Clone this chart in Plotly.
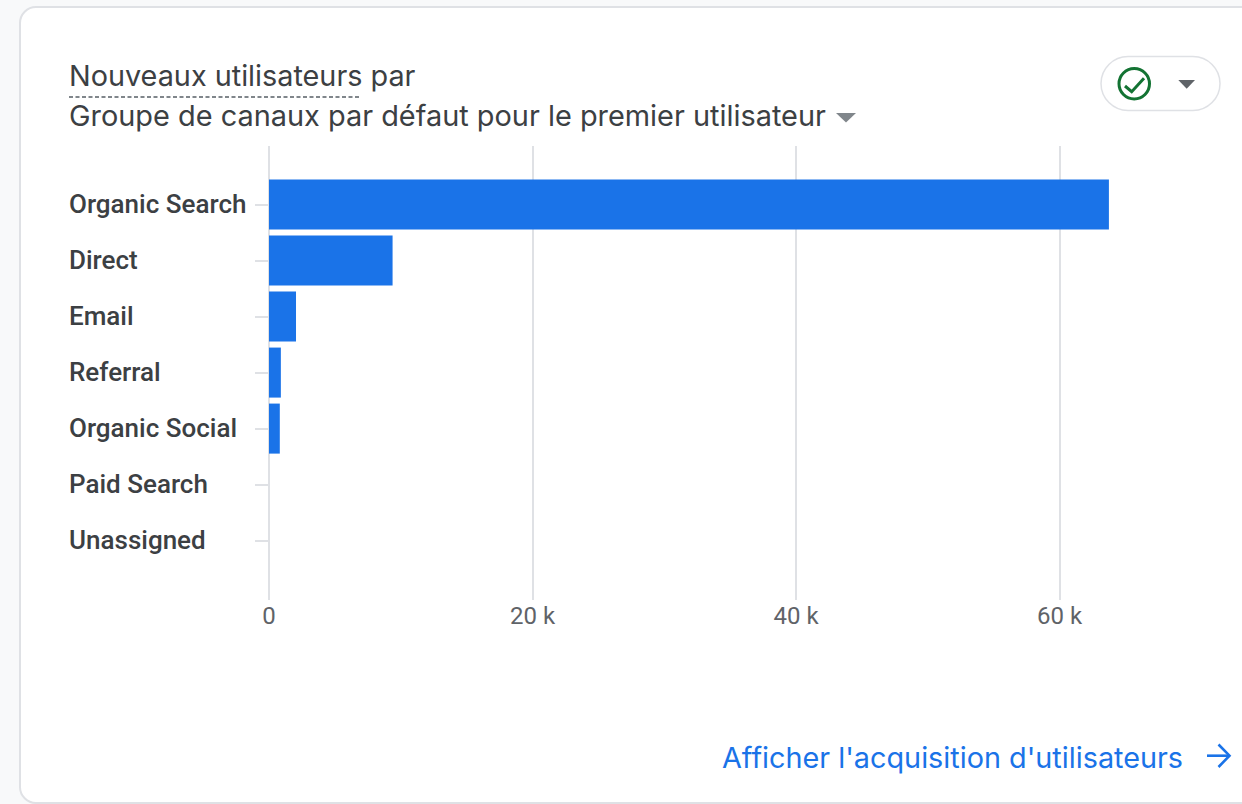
import plotly.graph_objects as go

categories = ["Organic Search", "Direct", "Email", "Referral", "Organic Social", "Paid Search", "Unassigned"]
new_users = [63750, 9380, 2050, 900, 820, 0, 0]
x_ticks = [0, 20000, 40000, 60000]
x_tick_labels = ["0", "20 k", "40 k", "60 k"]
title_line_1 = "Nouveaux utilisateurs par"
title_line_2 = "Groupe de canaux par défaut pour le premier utilisateur"
link_text = "Afficher l'acquisition d'utilisateurs"

W, H = 1242, 804
L, T, B = 269, 146, 600

def px(x):
    return (x - L) / (W - L)

def py(y):
    return (B - y) / (B - T)

def path(points, close=False):
    s = "M " + " L ".join(f"{px(x):.5f},{py(y):.5f}" for x, y in points)
    return s + (" Z" if close else "")

def rounded(x0, y0, x1, y1, r):
    # Rounded rectangle through cubic corners, in paper coordinates
    k = r * 0.45
    p = lambda x, y: f"{px(x):.5f},{py(y):.5f}"
    return (
        f"M {p(x0 + r, y0)} L {p(x1 - r, y0)} C {p(x1 - k, y0)} {p(x1, y0 + k)} {p(x1, y0 + r)} "
        f"L {p(x1, y1 - r)} C {p(x1, y1 - k)} {p(x1 - k, y1)} {p(x1 - r, y1)} "
        f"L {p(x0 + r, y1)} C {p(x0 + k, y1)} {p(x0, y1 - k)} {p(x0, y1 - r)} "
        f"L {p(x0, y0 + r)} C {p(x0, y0 + k)} {p(x0 + k, y0)} {p(x0 + r, y0)} Z"
    )

GREY = "#dfe1e5"
BLUE = "#1a73e8"
DARK = "#3c4043"
MID = "#5f6368"

shapes = [
    dict(type="path", xref="paper", yref="paper", layer="below", path=rounded(20, 7, 1290, 803, 16),
         fillcolor="#ffffff", line=dict(color=GREY, width=2)),
    dict(type="path", xref="paper", yref="paper", path=rounded(1101, 56.5, 1220, 110.5, 27),
         fillcolor="#ffffff", line=dict(color=GREY, width=1.5)),
    dict(type="circle", xref="paper", yref="paper", x0=px(1119), x1=px(1149.5), y0=py(68.5), y1=py(99),
         line=dict(color="#137333", width=3), fillcolor="rgba(0,0,0,0)"),
    dict(type="path", xref="paper", yref="paper", path=path([(1125, 86), (1131.7, 91.7), (1144, 78.3)]),
         line=dict(color="#137333", width=3)),
    dict(type="path", xref="paper", yref="paper", path=path([(1178.3, 80), (1195, 80), (1186.7, 88.7)], True),
         fillcolor=MID, line=dict(width=0)),
    dict(type="path", xref="paper", yref="paper", path=path([(836, 113), (856, 113), (846, 122.5)], True),
         fillcolor="#80868b", line=dict(width=0)),
    dict(type="line", xref="paper", yref="paper", x0=px(69), x1=px(361.5), y0=py(97), y1=py(97),
         line=dict(color="#80868b", width=2, dash="4px,2.5px")),
    dict(type="path", xref="paper", yref="paper", path=path([(1207, 755.7), (1229, 755.7)]),
         line=dict(color=BLUE, width=2.6)),
    dict(type="path", xref="paper", yref="paper", path=path([(1218.5, 744.5), (1229.5, 755.7), (1218.5, 767)]),
         line=dict(color=BLUE, width=2.6)),
]

TITLE_FONT = "Inter"
annotations = [
    dict(xref="paper", yref="paper", x=px(67), y=py(75.5), text=title_line_1, showarrow=False, xanchor="left",
         yanchor="middle", font=dict(family=TITLE_FONT, size=28.8, color=DARK)),
    dict(xref="paper", yref="paper", x=px(67), y=py(116), text=title_line_2, showarrow=False, xanchor="left",
         yanchor="middle", font=dict(family=TITLE_FONT, size=28.9, color=DARK)),
    dict(xref="paper", yref="paper", x=px(720), y=py(757), text=link_text, showarrow=False, xanchor="left",
         yanchor="middle", font=dict(family=TITLE_FONT, size=28.8, color=BLUE)),
]
for name in categories:
    annotations.append(dict(xref="paper", yref="y", x=px(67), y=name, yshift=1, text=name, showarrow=False, xanchor="left",
                            yanchor="middle", font=dict(family="Roboto", size=26, color=DARK, weight=500)))

fig = go.Figure(go.Bar(x=new_users, y=categories, orientation="h", marker=dict(color=BLUE, line=dict(width=0)), width=0.893))
fig.update_layout(
    width=W, height=H, margin=dict(l=L, r=0, t=T, b=H - B, autoexpand=False),
    paper_bgcolor="#f8f9fa", plot_bgcolor="rgba(0,0,0,0)", showlegend=False,
    shapes=shapes, annotations=annotations, font=dict(family="Roboto"),
    xaxis=dict(range=[0, (W - L) / 263.5 * 20000], tickvals=x_ticks, ticktext=x_tick_labels, showgrid=True,
               gridcolor=GREY, gridwidth=1.6, zeroline=True, zerolinecolor=GREY, zerolinewidth=1.6, showline=False,
               ticks="", ticklabelstandoff=-1, tickfont=dict(family="Roboto", size=24, color=MID)),
    yaxis=dict(categoryorder="array", categoryarray=categories, range=[7.06, -1.045], showgrid=False, zeroline=False,
               showline=False, ticks="outside", ticklen=13, tickcolor=GREY, tickwidth=1.6, showticklabels=False),
)
fig.write_html("out.html", post_script="document.body.style.margin='0';document.body.style.overflow='hidden';",
               config={"displayModeBar": False})
